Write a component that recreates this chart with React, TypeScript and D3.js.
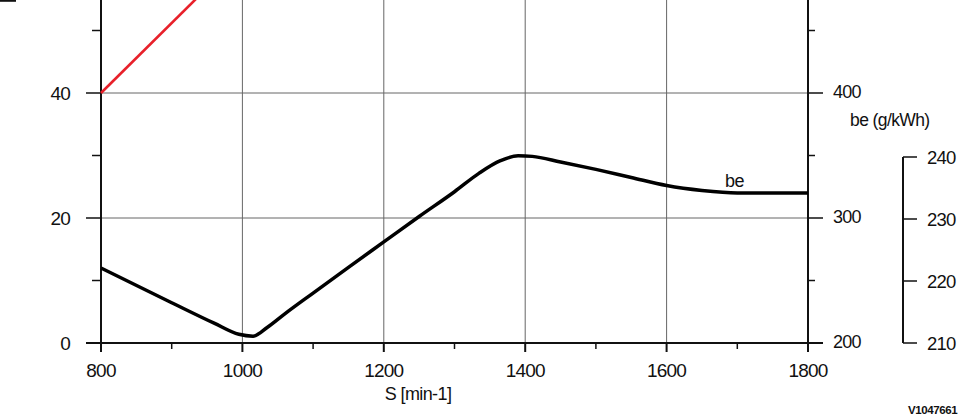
import React from "react";
import * as d3 from "d3";

const rpm = [800, 900, 960, 995, 1015, 1035, 1060, 1100, 1150, 1200, 1250, 1300, 1335, 1365, 1390, 1410, 1450, 1500, 1550, 1600, 1650, 1700, 1750, 1800];
const beValues = [222.1, 216.5, 213.2, 211.4, 211.1, 212.5, 214.7, 218.05, 222.2, 226.3, 230.4, 234.4, 237.4, 239.4, 240.2, 240.1, 239.2, 238.0, 236.7, 235.4, 234.6, 234.2, 234.2, 234.2];
const redRpm = [800, 1000];
const redValues = [40, 62.4];
const xTicks = [800, 1000, 1200, 1400, 1600, 1800];
const xMinor = [900, 1100, 1300, 1500, 1700];
const leftTicks = [0, 20, 40];
const leftGridTop = [60];
const leftMinor = [10, 30, 50];
const rightTicks = [200, 300, 400];
const rightMinor = [250, 350, 450];
const beTicks = [210, 220, 230, 240];

const W = 965, H = 418;
const FONT = "'Liberation Sans', Arial, sans-serif";

export default function App() {
  const x = d3.scaleLinear().domain([800, 1800]).range([101, 808]);
  const yL = d3.scaleLinear().domain([0, 40]).range([343, 93]);
  const yR = d3.scaleLinear().domain([200, 400]).range([343, 93]);
  const yBe = d3.scaleLinear().domain([210, 240]).range([343, 157]);

  const beLine = d3.line<number>().x((_, i) => x(rpm[i])).y((d) => yBe(d)).curve(d3.curveMonotoneX);
  const redLine = d3.line<number>().x((_, i) => x(redRpm[i])).y((d) => yL(d));

  const x0 = x(800), x1 = x(1800), yb = yL(0);
  const lbl = { fontFamily: FONT, fontSize: 19, letterSpacing: -0.8, fill: "#111" } as const;

  return (
    <svg width={W} height={H} style={{ position: "absolute", left: 0, top: 0, background: "#fff" }}>
      <line x1={0} x2={16} y1={0.8} y2={0.8} stroke="#111" strokeWidth={2} />
      {/* grid */}
      {xTicks.slice(1, -1).map((t) => (
        <line key={"gx" + t} x1={x(t)} x2={x(t)} y1={0} y2={yb} stroke="#666" strokeWidth={1} />
      ))}
      {leftTicks.slice(1).concat(leftGridTop).map((t) => (
        <line key={"gy" + t} x1={x0} x2={x1} y1={yL(t)} y2={yL(t)} stroke="#666" strokeWidth={1} />
      ))}
      {/* x axis */}
      <line x1={86} x2={823} y1={yb} y2={yb} stroke="#111" strokeWidth={2} />
      {xTicks.map((t) => (
        <g key={"xt" + t}>
          <line x1={x(t)} x2={x(t)} y1={yb} y2={yb + 9} stroke="#111" strokeWidth={2} />
          <text x={x(t)} y={377} textAnchor="middle" {...lbl}>{t}</text>
        </g>
      ))}
      {xMinor.map((t) => (
        <line key={"xm" + t} x1={x(t)} x2={x(t)} y1={yb} y2={yb + 6} stroke="#111" strokeWidth={1.5} />
      ))}
      <text x={418} y={400} textAnchor="middle" fontFamily={FONT} fontSize={18} letterSpacing={-0.6} fill="#111">S [min-1]</text>
      {/* left axis */}
      <line x1={x0} x2={x0} y1={0} y2={yb + 9} stroke="#111" strokeWidth={2} />
      {leftTicks.map((t) => (
        <g key={"lt" + t}>
          <line x1={86} x2={x0} y1={yL(t)} y2={yL(t)} stroke="#111" strokeWidth={1.5} />
          <text x={70} y={yL(t) + 7} textAnchor="end" {...lbl}>{t}</text>
        </g>
      ))}
      {leftMinor.map((t) => (
        <line key={"lm" + t} x1={92} x2={x0} y1={yL(t)} y2={yL(t)} stroke="#111" strokeWidth={1.5} />
      ))}
      {/* right axis */}
      <line x1={x1} x2={x1} y1={0} y2={yb + 9} stroke="#111" strokeWidth={2} />
      {rightTicks.map((t) => (
        <g key={"rt" + t}>
          <line x1={x1} x2={823} y1={yR(t)} y2={yR(t)} stroke="#111" strokeWidth={1.5} />
          <text x={833} y={yR(t) + 5} {...lbl} fontSize={18}>{t}</text>
        </g>
      ))}
      {rightMinor.map((t) => (
        <line key={"rm" + t} x1={x1} x2={815} y1={yR(t)} y2={yR(t)} stroke="#111" strokeWidth={1.5} />
      ))}
      <text x={850} y={126} fontFamily={FONT} fontSize={17.5} letterSpacing={-0.6} fill="#111">be (g/kWh)</text>
      {/* be axis */}
      <line x1={903} x2={903} y1={yBe(240)} y2={yBe(210)} stroke="#111" strokeWidth={2} />
      {beTicks.map((t) => (
        <g key={"bt" + t}>
          <line x1={903} x2={917} y1={yBe(t)} y2={yBe(t)} stroke="#111" strokeWidth={1.5} />
          <text x={927} y={yBe(t) + 7} {...lbl} fontSize={18.5}>{t}</text>
        </g>
      ))}
      {/* curves */}
      <path d={redLine(redValues) || ""} fill="none" stroke="#e8202a" strokeWidth={2.6} />
      <path d={beLine(beValues) || ""} fill="none" stroke="#000" strokeWidth={3.5} strokeLinejoin="round" />
      <text x={725} y={187} fontFamily={FONT} fontSize={18} letterSpacing={-0.6} fill="#111">be</text>
      <text x={908} y={414} fontFamily={FONT} fontSize={11.5} fontWeight="bold" letterSpacing={-0.4} fill="#111">V1047661</text>
    </svg>
  );
}
